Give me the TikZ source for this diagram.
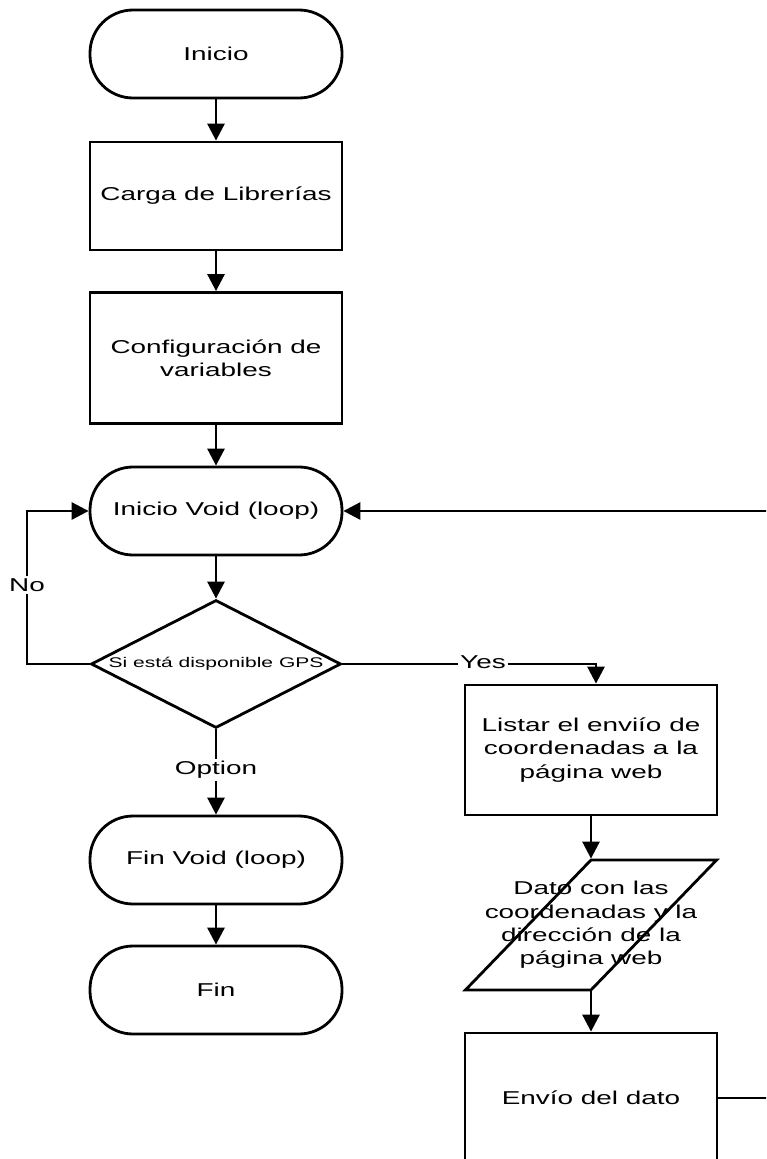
\documentclass[tikz,border=0pt]{standalone}
\usepackage{fontspec}
\setmainfont{Liberation Sans}[FakeStretch=1.5]
\usetikzlibrary{shapes.geometric,arrows.meta}

\begin{document}
\begin{tikzpicture}[x=1pt,y=-1pt,
    every node/.style={font=\fontsize{18.6}{23.3}\selectfont},
    terminal/.style={draw, line width=2.8pt, rounded corners=43pt, minimum width=252pt, minimum height=88pt},
    proceso/.style={draw, line width=2.8pt, minimum width=252pt, align=center},
    decision/.style={draw, line width=2.8pt, diamond, inner sep=0pt, minimum width=250pt, minimum height=128pt, font=\fontsize{14}{16}\selectfont},
    datos/.style={draw, line width=2.8pt, trapezium, trapezium left angle=70, trapezium right angle=110, trapezium stretches=true, inner sep=0pt, minimum width=252pt, minimum height=130pt},
    flecha/.style={line width=2.8pt, -{Triangle[width=17pt,length=17pt]}},
    etiqueta/.style={inner sep=2pt}]

    % Size of the picture
    \useasboundingbox (0,0) rectangle (766,1159);
    \clip (0,0) rectangle (766,1159);

    % Main column
    \node[terminal] (inicio) at (216,54) {Inicio};
    \node[proceso, minimum height=108pt] (carga) at (216,196) {Carga de Librerías};
    \node[proceso, minimum height=131pt] (config) at (216,358) {Configuración de\\variables};
    \node[terminal] (void) at (216,511) {Inicio Void (loop)};
    \node[decision] (gps) at (216,664) {\makebox[0pt]{Si está disponible GPS}};
    \node[terminal] (finvoid) at (216,860) {Fin Void (loop)};
    \node[terminal] (fin) at (216,990) {Fin};

    % Right column
    \node[proceso, minimum height=130pt] (listar) at (591,750) {Listar el enviío de\\coordenadas a la\\página web};
    \node[datos] (dato) at (591,925) {\makebox[0pt]{\begin{tabular}{@{}c@{}}Dato con las\\coordenadas y la\\dirección de la\\página web\end{tabular}}};
    \node[proceso, minimum height=130pt] (envio) at (591,1098) {Envío del dato};

    % Labels on the branches
    \node[etiqueta] (no) at (27,585) {No};
    \node[etiqueta] (yes) at (483,662) {Yes};
    \node[etiqueta] (option) at (216,770) {Option};
    \coordinate (retorno) at (800,511);

    % Arrows
    \draw[flecha] (inicio) -- (carga);
    \draw[flecha] (carga) -- (config);
    \draw[flecha] (config) -- (void);
    \draw[flecha] (void) -- (gps);
    \draw[line width=2.8pt] (gps.west) -| (no);
    \draw[flecha] (no) |- (void.west);
    \draw[line width=2.8pt] (gps.east) -- (gps.east -| yes.west);
    \draw[flecha] (yes.east |- gps.east) -| (listar.north -| 596,0);
    \draw[line width=2.8pt] (gps.south) -- (option);
    \draw[flecha] (option) -- (finvoid);
    \draw[flecha] (finvoid) -- (fin);
    \draw[flecha] (listar) -- (dato);
    \draw[flecha] (dato) -- (envio);
    \draw[flecha] (envio.east) -| (retorno) -- (void.east);

\end{tikzpicture}
\end{document}
